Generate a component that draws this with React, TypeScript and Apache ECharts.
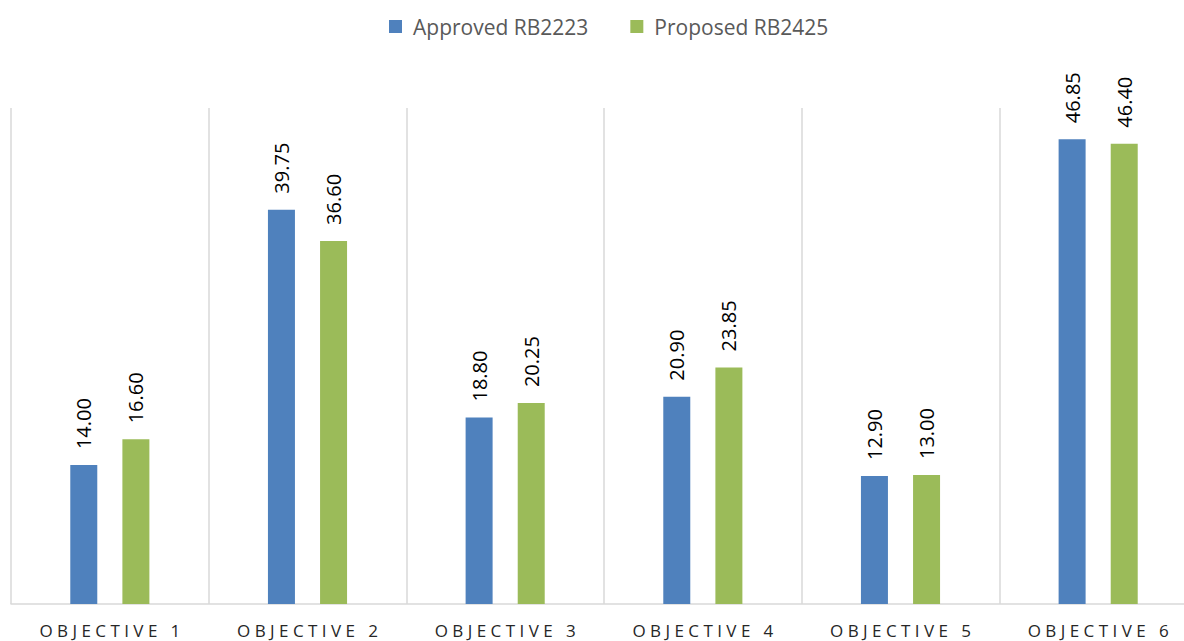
import React, { useEffect, useRef } from "react";
import * as echarts from "echarts";

const categories = ["Objective 1", "Objective 2", "Objective 3", "Objective 4", "Objective 5", "Objective 6"];
const approved = [14.0, 39.75, 18.8, 20.9, 12.9, 46.85];
const proposed = [16.6, 36.6, 20.25, 23.85, 13.0, 46.4];
const seriesNames = ["Approved RB2223", "Proposed RB2425"];

export default function App() {
  const ref = useRef<HTMLDivElement>(null);
  useEffect(() => {
    document.body.style.margin = "0";
    const chart = echarts.init(ref.current!, null, { renderer: "svg" });
    const label = {
      show: true,
      position: "top",
      rotate: 90,
      align: "left",
      verticalAlign: "middle",
      distance: 16,
      fontFamily: "Open Sans",
      fontSize: 20,
      color: "#000",
      formatter: (p: any) => Number(p.value).toFixed(2),
    };
    chart.setOption({
      animation: false,
      textStyle: { fontFamily: "Open Sans" },
      legend: {
        top: 11,
        left: 384,
        itemWidth: 13,
        itemHeight: 13,
        itemGap: 42,
        icon: "rect",
        textStyle: { fontSize: 21, color: "#595959", fontFamily: "Open Sans", padding: [0, 0, 0, 6] },
        data: seriesNames,
      },
      grid: { left: 11, top: 108, bottom: 37, width: 1186, outerBoundsMode: "none", containLabel: false },
      xAxis: {
        type: "category",
        data: categories,
        axisLine: { lineStyle: { color: "#d9d9d9", width: 1.5 } },
        axisTick: { show: false },
        splitLine: { show: true, interval: 0, lineStyle: { color: "#d9d9d9", width: 1.5 } },
        axisLabel: {
          interval: 0,
          margin: 18,
          fontSize: 17,
          color: "#262626",
          fontFamily: "Open Sans",
          formatter: (v: string) => v.toUpperCase().split("").join(" "),
        },
      },
      yAxis: { type: "value", min: 0, max: 50, show: false, splitLine: { show: false } },
      series: [
        {
          name: seriesNames[0],
          type: "bar",
          data: approved,
          barWidth: 27,
          barGap: "93%",
          itemStyle: { color: "#4f81bd" },
          label,
        },
        {
          name: seriesNames[1],
          type: "bar",
          data: proposed,
          barWidth: 27,
          itemStyle: { color: "#9bbb59" },
          label,
        },
      ],
    });
    return () => chart.dispose();
  }, []);
  return <div ref={ref} style={{ width: 1184, height: 641 }} />;
}
